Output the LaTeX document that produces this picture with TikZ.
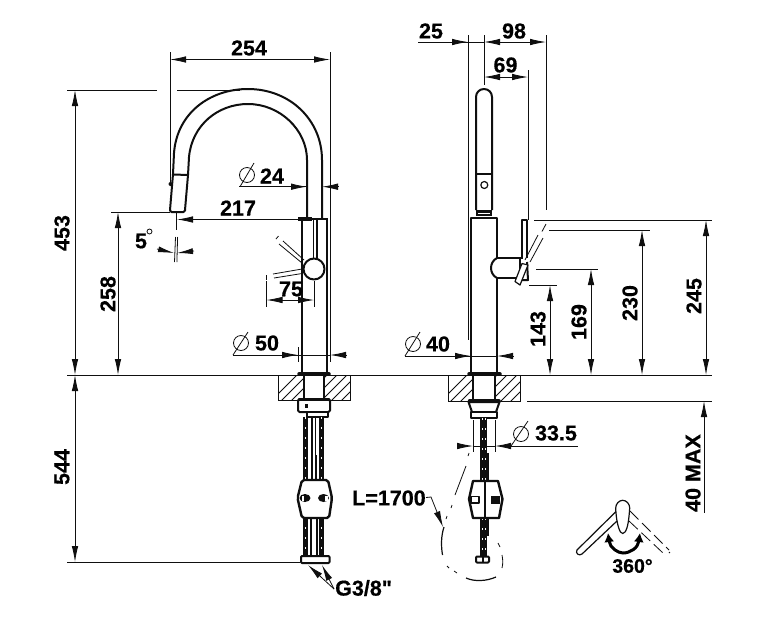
\documentclass[tikz,border=0pt]{standalone}
\usepackage{fontspec}
\setmainfont{Liberation Sans}[Ligatures=TeXOff,BoldFeatures={FakeBold=0.5}]
\usetikzlibrary{arrows.meta}
\definecolor{ink}{RGB}{15,15,15}
\tikzset{
  x=1pt,y=-1pt,
  >={Latex[length=16pt,width=6.5pt]},
  thinline/.style={draw=ink,line width=0.8pt},
  thickline/.style={draw=ink,line width=2pt,line join=round},
  medline/.style={draw=ink,line width=1.2pt,line join=round},
  dimtext/.style={font=\fontsize{21.5}{24}\selectfont\bfseries,text=black,inner sep=0pt},
  ghost/.style={thinline,dash pattern=on 12pt off 5pt},
  hosedark/.style={draw=ink,line width=5pt},
  hoselight/.style={draw=white,line width=1pt,dash pattern=on 2pt off 8pt},
}
\begin{document}
\begin{tikzpicture}
\useasboundingbox (0,0) rectangle (778,638);
\fill[white] (0,0) rectangle (778,638);

% ---------- shared baselines
\draw[thinline] (67,375) -- (279,375);
\draw[thinline] (350,375) -- (449,375);
\draw[thinline] (520,375) -- (712,375);
\draw[thinline] (527,401) -- (712,401);
\draw[thinline] (67,90) -- (157,90);
\draw[thinline] (177,90) -- (240,90);
\draw[thinline] (67,562) -- (300,562);

% ---------- left view: overall dimensions
\draw[thinline,<->] (75,90) -- (75,375);
\draw[thinline,<->] (75,375) -- (75,562);
\node[dimtext,rotate=90] (d453) at (62,233) {453};
\node[dimtext,rotate=90] (d544) at (62,467) {544};

\draw[thinline] (170,52) -- (170,183);
\draw[thinline] (330,52) -- (330,362);
\draw[thinline,<->] (170,59.5) -- (330,59.5);
\node[dimtext] (d254) at (249,48) {254};

% spout
\draw[thickline] (170,210) -- (173,174) -- (174,153) .. controls (177,113) and (210,89) .. (248,89) .. controls (290,89) and (322,120) .. (322,160) -- (322,218);
\draw[thickline] (185,210) -- (188,175) -- (189,157) .. controls (192,125) and (218,104) .. (248,104) .. controls (280,104) and (307,130) .. (307,160) -- (307,218);
\draw[thickline] (173,174.5) -- (188.5,175);
\draw[thickline,rounded corners=1.5pt] (170,210) -- (170,212) -- (185,212) -- (185,210);
\fill[ink] (170.5,184) circle (2pt);

% Ø24
\draw[thinline] (247,175) circle (7.5);
\draw[thinline] (240,186.7) -- (254,163);
\draw[thinline] (239,186.7) -- (307,186.7);
\draw[thinline,<-] (307,186.7) -- (290,186.7);
\draw[thinline,<-] (322,186.7) -- (339,186.7);
\node[dimtext] (d24) at (272,176) {24};

% 217
\draw[thinline,<-] (177,219.5) -- (300,219.5);
\node[dimtext] (d217) at (238,208) {217};
\draw[thinline] (111,212) -- (170,212);
\draw[thinline,<->] (118,212) -- (118,375);
\node[dimtext,rotate=90] (d258) at (108,294) {258};

% 5 degrees
\node[dimtext] (d5) at (141,241) {5};
\draw[thinline] (149.5,231.5) circle (2.5);
\draw[thinline] (176.7,213) -- (176.7,230);
\draw[thinline] (175.5,237) -- (174.5,262);
\draw[thinline] (177.6,237) -- (176.9,262);
\draw[thinline,->,>={Latex[length=16pt,width=6pt]}] (157,249) -- (174,253);
\draw[thinline,->,>={Latex[length=16pt,width=6pt]}] (194,251) -- (177,253);

% body, left view
\draw[thickline] (302,218) -- (302,373);
\draw[medline] (327,218) -- (327,373);
\draw[line width=3.5pt,draw=ink] (298,219) -- (312,219);
\draw[medline] (312,219) -- (327,219);
\draw[medline] (313.5,220) -- (313.5,258);
\draw[medline] (317,220) -- (317,258);
\fill[white] (314,269) circle (10.5);
\draw[thickline] (314,269) circle (10.5);
% ghost lever
\draw[thinline] (283,241) -- (304,260);
\draw[thinline] (279,244) -- (302,263);
\draw[thinline] (276,239) -- (278.5,236);
\draw[thinline] (273,274) -- (302,269);
\draw[thinline] (274,278) -- (302,273.5);
\draw[thinline] (266.5,275) -- (266.5,280);

% 75
\draw[thinline] (266.5,281) -- (266.5,307);
\draw[thinline] (314,281) -- (314,307);
\draw[thinline,<->] (266.5,300) -- (314,300);
\node[dimtext] (d75) at (291,289) {75};

% Ø50
\draw[thinline] (241,343) circle (7.5);
\draw[thinline] (233,355) -- (248,332);
\draw[thinline] (233,355) -- (298,355);
\draw[thinline] (298,347) -- (298,362);
\draw[thinline,<-] (298,355) -- (281,355);
\draw[thinline,<-] (330,355) -- (347,355);
\draw[thinline] (298,355) -- (330,355);
\node[dimtext] (d50) at (267,343) {50};

% counter, left view
\begin{scope}
\clip (278,375) rectangle (304,400.5) (324,375) rectangle (350,400.5);
\foreach \k in {0,...,8} {\draw[thinline] (\k*10+270,402) -- (\k*10+297,375);}
\end{scope}
\draw[thinline] (278,375) rectangle (350,400.5);
\draw[medline] (304,375) -- (304,400);
\draw[medline] (324,375) -- (324,400);
\fill[white] (305,376) rectangle (323,399.5);
\draw[line width=3.5pt,draw=ink,line cap=round] (299,374) -- (329,374);

% nut, left view
\draw[thickline,rounded corners=1.5pt,fill=white] (298,399.5) rectangle (330,412);
\draw[thickline,fill=white] (307,412) rectangle (328,417);
\fill[ink] (305,404) rectangle (308,408);
\draw[line width=3.5pt,draw=ink,line cap=round] (299,399.5) -- (329,399.5);

% hoses, left view
\foreach \hx in {305.5,321.5} {
  \draw[hosedark] (\hx,417) -- (\hx,555);
  \draw[hoselight] (\hx,417) -- (\hx,555);
}
\draw[medline] (312,417) -- (312,455);
\draw[medline] (315.5,417) -- (315.5,455);
\draw[thickline] (312,455) -- (312,480);
\draw[thickline] (316,455) -- (316,480);
\draw[thickline] (311,519) -- (311,555);
\draw[thickline] (316.5,519) -- (316.5,555);

% coupling, left view
\draw[draw=ink,line width=2.4pt,line join=round,fill=white,rounded corners=2pt] (302,480) -- (328,480) -- (332,498) -- (329,518) -- (302,518) -- (297.5,498) -- cycle;
\fill[ink] (305,498) ellipse (5.5 and 4);
\fill[ink] (323.5,498) ellipse (5.5 and 4);
\fill[white] (301.5,495.5) rectangle (304,500.5);
\fill[white] (325,495.5) rectangle (327.5,500.5);

% bottom nut, left view
\draw[thickline,fill=white,rounded corners=1pt] (301,556) rectangle (329.5,563);
\foreach \bx in {307,315,322} {\fill[white] (\bx-1.5,558) rectangle (\bx+1.5,561);}

% G3/8 leader
\coordinate (gjoint) at (334,589);
\draw[thinline,<-] (308,565) -- (gjoint);
\draw[thinline,<-] (322,565) -- (gjoint);
\node[dimtext,anchor=west] (dg) at (335,588) {G3/8"};

% ---------- right view, top dimensions
\draw[thinline] (468,35) -- (468,340);
\draw[thinline] (484,35) -- (484,85);
\draw[thinline] (546,35) -- (546,210);
\draw[thinline] (528,70) -- (528,220);
\draw[thinline] (418,42) -- (468,42);
\draw[thinline,<-] (468,42) -- (451,42);
\draw[thinline,<->] (484,42) -- (546,42);
\draw[thinline] (468,42) -- (484,42);
\draw[thinline,<->] (484,77) -- (528,77);
\node[dimtext] (d25) at (431,31) {25};
\node[dimtext] (d98) at (514,31) {98};
\node[dimtext] (d69) at (505.5,65) {69};

% spout, right view
\draw[thickline] (476,210) -- (476,97) .. controls (476,92.5) and (479.5,89) .. (484,89) .. controls (488.5,89) and (492,92.5) .. (492,97) -- (492,210);
\draw[thickline] (476,174) -- (492,174);
\draw[medline] (484.3,185) circle (3.5);
\fill[ink] (476,210) rectangle (492,216);
\fill[white] (478,212.5) rectangle (490,213.2);

% body, right view
\draw[thickline] (471,373) -- (471,217.5) -- (497,217.5) -- (497,258);
\draw[thickline] (497,278) -- (497,373);

% knob, lever
\draw[thickline] (497,258) .. controls (493,260) and (491,264) .. (491,268) .. controls (491,272) and (493,276) .. (497,278);
\draw[thickline] (497,258) -- (523,258);
\draw[thickline] (497,278) -- (520,278);
\draw[medline] (522,258) -- (522,220) -- (527,220) -- (527,258);
\draw[thickline] (520,258) -- (520,280);
\draw[thickline,fill=white] (527,262) -- (528,280) -- (520,280);
\draw[medline,fill=white] (515,281.5) -- (520,285) -- (528,265) -- (522,263.5) -- cycle;

% ghost, right view
\draw[thinline] (525,260) -- (538,235);
\draw[thinline] (530,262) -- (543,238);
\draw[thinline] (542,231.5) -- (546,224);

% height lines
\draw[thinline] (534,220) -- (712,220);
\draw[thinline] (549,230) -- (650,230);
\draw[thinline] (536,269) -- (598,269);
\draw[thinline] (529,285) -- (557,285);
\draw[thinline,<->] (550,285) -- (550,375);
\draw[thinline,<->] (591,269) -- (591,375);
\draw[thinline,<->] (642,230) -- (642,375);
\draw[thinline,<->] (706,220) -- (706,375);
\draw[thinline,<-] (704,401) -- (704,513);
\node[dimtext,rotate=90] (d143) at (538,329) {143};
\node[dimtext,rotate=90] (d169) at (579,322) {169};
\node[dimtext,rotate=90] (d230) at (630,303) {230};
\node[dimtext,rotate=90] (d245) at (694,296) {245};
\node[dimtext,rotate=90] (d40max) at (693,473) {40 MAX};

% Ø40
\draw[thinline] (413,344) circle (7.5);
\draw[thinline] (405,356) -- (420,332);
\draw[thinline] (405,356) -- (471,356);
\draw[thinline,<-] (471,356) -- (454,356);
\draw[thinline,<-] (497,356) -- (513,356);
\draw[thinline] (471,356) -- (497,356);
\node[dimtext] (d40) at (438,344) {40};

% counter, right view
\begin{scope}
\clip (448,375) rectangle (473,401) (495,375) rectangle (520,401);
\foreach \k in {0,...,8} {\draw[thinline] (\k*10+440,402) -- (\k*10+467,375);}
\end{scope}
\draw[thinline] (448,375) rectangle (520,401);
\draw[medline] (473,375) -- (473,401);
\draw[medline] (495,375) -- (495,401);
\fill[white] (474,376) rectangle (494,400.5);
\draw[line width=3.5pt,draw=ink,line cap=round] (469,374) -- (500,374);

% nut, right view
\draw[thickline,fill=white] (468.5,402) -- (472,412) -- (496,412) -- (499.5,402) -- cycle;
\draw[thickline,fill=white] (471,412) rectangle (497,418);
\draw[line width=3.5pt,draw=ink,line cap=round] (469.5,401) -- (499,401);

% hose, right view
\draw[hosedark,line width=7pt] (483.5,418) -- (483.5,556);
\draw[hoselight] (482,418) -- (482,556);
\draw[hoselight] (485,418) -- (485,556);
\draw[thickline] (488,453) -- (488,480);
\draw[thickline] (488,519) -- (488,536);

% Ø33.5
\draw[thinline] (521,434) circle (7.5);
\draw[thinline] (511,446) -- (528,421);
\draw[thinline] (512,446) -- (578,446);
\draw[thinline,<-] (495,446) -- (512,446);
\draw[thinline,<-] (473,446) -- (457,446);
\draw[thinline] (473,446) -- (495,446);
\draw[thinline] (473,420) -- (473,452);
\draw[thinline] (495,420) -- (495,452);
\node[dimtext] (d335) at (556,433) {33.5};

% coupling, right view
\draw[draw=ink,line width=2.4pt,line join=round,fill=white] (473,481) -- (498,481) -- (502.5,499) -- (499,518) -- (473,518) -- (469,499) -- cycle;
\draw[thickline] (485,481) -- (485,518);
\draw[medline] (471,496.5) rectangle (479,503);
\draw[line width=2pt,draw=ink,fill=ink] (491.5,497) rectangle (499,502.5);

% bottom nut, right view
\draw[thickline,fill=white,rounded corners=1pt] (476,556.5) rectangle (489,562.5);
\fill[ink] (482,556) rectangle (483.5,563);

% L=1700 loop
\node[dimtext,anchor=west] (dl) at (352,498) {L=1700};
\coordinate (ljoint) at (431,497);
\draw[thinline,->] (426,497.5) -- (ljoint) -- (443,527);
\draw[thinline] (469,453) -- (468,456);
\draw[thinline] (466,466) -- (455,495);
\draw[thinline] (452,505) -- (451,508);
\draw[thinline] (447,516) -- (446,519);
\draw[medline] (444,527) .. controls (441,536) and (441,546) .. (442.5,555);
\draw[thinline] (447,566) -- (449,568);
\draw[thinline] (454,571) -- (457,573);
\draw[medline] (466,578) .. controls (475,582) and (487,581) .. (496,577);
\draw[thinline] (502,568) .. controls (503,564) and (503,560) .. (502,555);
\draw[thinline] (498,543) -- (500,547);

% 360 degree symbol
\draw[medline,fill=white] (615.7,508) .. controls (615.7,504) and (619,500.3) .. (622.7,500.3) .. controls (626.5,500.3) and (629.7,504) .. (629.7,508) .. controls (629,518) and (628,528) .. (625,532) .. controls (624,534) and (621.5,534) .. (620.5,532) .. controls (618,528) and (616,518) .. (615.7,508);
\draw[medline] (616,511.5) -- (577,550) .. controls (575,553) and (579,556.5) .. (582,554) -- (617,521);
\draw[ghost] (630,511) -- (669,550);
\draw[ghost] (629,521) -- (663,553);
\draw[thinline] (670,552) -- (669,553);
\draw[draw=black,line width=3pt,{Latex[length=9pt,width=10pt]}-{Latex[length=9pt,width=10pt]}] (608,533) .. controls (610,548) and (618,553) .. (623,553) .. controls (630,553) and (638,548) .. (640,533);
\node[dimtext,font=\fontsize{19.5}{22}\selectfont\bfseries] (d360) at (632.5,566) {360°};
\end{tikzpicture}
\end{document}
